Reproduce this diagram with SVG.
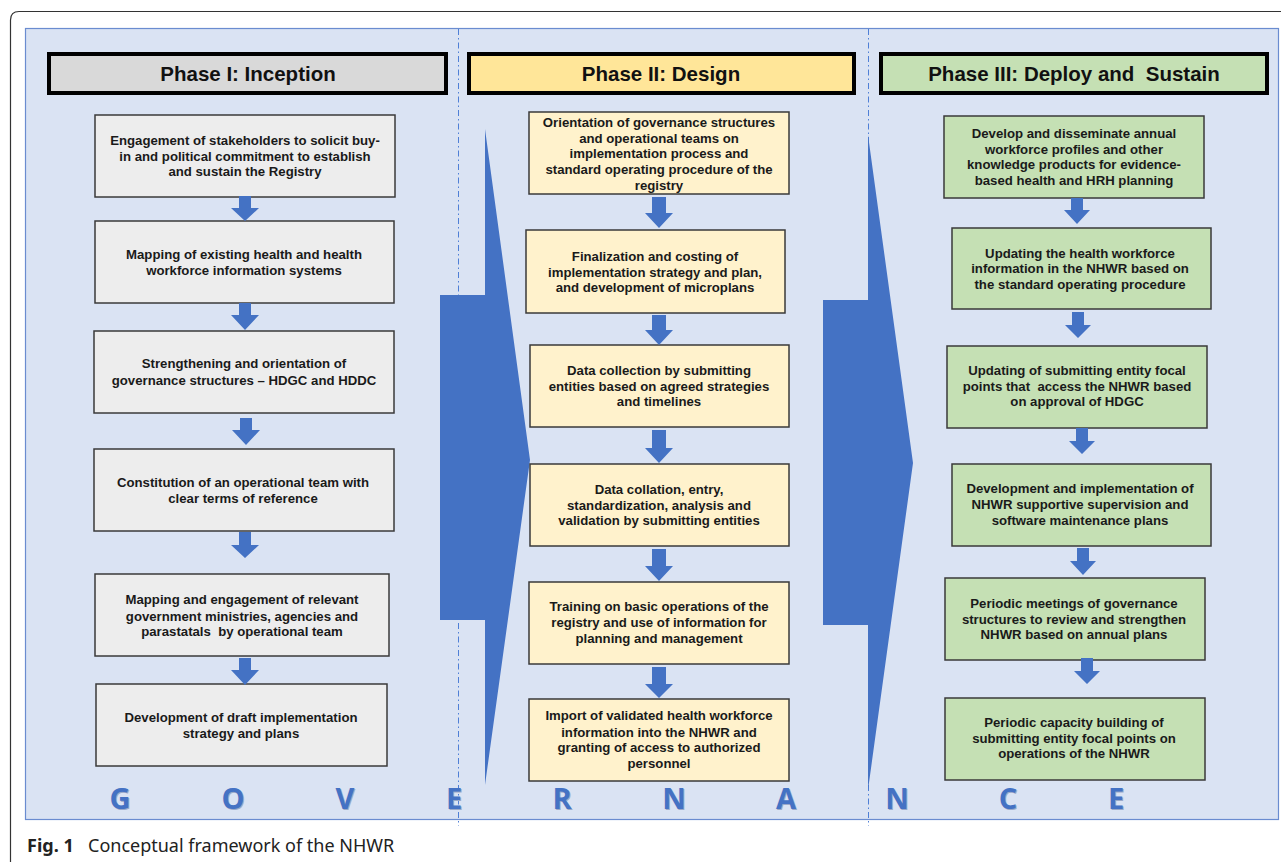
<svg xmlns="http://www.w3.org/2000/svg" width="1281" height="862" viewBox="0 0 1281 862">
<defs>
<style>
text{white-space:pre}
.frame{fill:none;stroke:#333;stroke-width:1.2}
.panel{fill:#dae3f3;stroke:#6a8cd0;stroke-width:1.2}
.sep{stroke:#4f7fd6;stroke-width:1;stroke-dasharray:6 3 1.5 3;fill:none}
.hdr{stroke:#000;stroke-width:4}
.h1{fill:#d9d9d9}.h2{fill:#ffe699}.h3{fill:#c5e0b4}
.ht{font-family:"Liberation Sans",Arial,sans-serif;font-weight:bold;font-size:20.5px;fill:#111;text-anchor:middle}
.box{stroke:#3a3a3a;stroke-width:1.5}
.b1{fill:#ededed}.b2{fill:#fff2cc}.b3{fill:#c5e0b4}
.bt{font-family:"Liberation Sans",Arial,sans-serif;font-weight:bold;font-size:13.2px;fill:#1a1a1a;text-anchor:middle}
.big{fill:#4472c4}
.sa{fill:#4472c4}
.gov{font-family:"Open Sans","Liberation Sans",sans-serif;font-weight:bold;font-size:29px;fill:#4472c4;text-anchor:middle}
.govs{font-family:"Open Sans","Liberation Sans",sans-serif;font-weight:bold;font-size:29px;fill:#9aa9c8;text-anchor:middle}
.cap{font-family:"Noto Sans","Open Sans",sans-serif;font-size:18px;fill:#222}
</style>
</defs>
<path class="frame" d="M10.5 862 V20 Q10.5 11.5 19 11.5 H1281"/>
<rect class="panel" x="25.5" y="28.5" width="1253" height="791"/>
<line class="sep" x1="458.5" y1="29" x2="458.5" y2="826"/>
<line class="sep" x1="868.5" y1="29" x2="868.5" y2="826"/>

<g id="bigarrows">
<polygon class="big" points="440,295 485,295 485,129 530,460 485,785 485,620 440,620"/>
<polygon class="big" points="823,300 868,300 868,135 913,463 868,790 868,625 823,625"/>
</g>

<g id="phase1-header"><rect class="hdr h1" x="49" y="54" width="397" height="39"/><text class="ht" x="248" y="81">Phase I: Inception</text></g>
<g id="phase2-header"><rect class="hdr h2" x="469" y="54" width="385" height="39"/><text class="ht" x="661" y="81">Phase II: Design</text></g>
<g id="phase3-header"><rect class="hdr h3" x="881" y="54" width="386" height="39"/><text class="ht" x="1074" y="81">Phase III: Deploy and  Sustain</text></g>

<g id="p1n1"><rect class="box b1" x="95" y="115" width="300" height="82"/><text class="bt"><tspan x="245" y="145">Engagement of stakeholders to solicit buy-</tspan><tspan x="245" y="161">in and political commitment to establish</tspan><tspan x="245" y="176">and sustain the Registry</tspan></text></g>
<g id="p1n2"><rect class="box b1" x="95" y="221" width="299" height="82"/><text class="bt"><tspan x="244" y="259">Mapping of existing health and health</tspan><tspan x="244" y="275">workforce information systems</tspan></text></g>
<g id="p1n3"><rect class="box b1" x="94" y="331" width="300" height="82"/><text class="bt"><tspan x="244" y="368">Strengthening and orientation of</tspan><tspan x="244" y="385">governance structures – HDGC and HDDC</tspan></text></g>
<g id="p1n4"><rect class="box b1" x="94" y="449" width="300" height="82"/><text class="bt"><tspan x="243" y="487">Constitution of an operational team with</tspan><tspan x="243" y="503">clear terms of reference</tspan></text></g>
<g id="p1n5"><rect class="box b1" x="95" y="574" width="294" height="82"/><text class="bt"><tspan x="242" y="604">Mapping and engagement of relevant</tspan><tspan x="242" y="621">government ministries, agencies and</tspan><tspan x="242" y="636">parastatals  by operational team</tspan></text></g>
<g id="p1n6"><rect class="box b1" x="96" y="684" width="291" height="82"/><text class="bt"><tspan x="241" y="722">Development of draft implementation</tspan><tspan x="241" y="738">strategy and plans</tspan></text></g>

<g id="p2n1"><rect class="box b2" x="529" y="112" width="260" height="82"/><text class="bt"><tspan x="659" y="127">Orientation of governance structures</tspan><tspan x="659" y="143">and operational teams on</tspan><tspan x="659" y="158">implementation process and</tspan><tspan x="659" y="174">standard operating procedure of the</tspan><tspan x="659" y="190">registry</tspan></text></g>
<g id="p2n2"><rect class="box b2" x="526" y="230" width="259" height="83"/><text class="bt"><tspan x="655" y="261">Finalization and costing of</tspan><tspan x="655" y="277">implementation strategy and plan,</tspan><tspan x="655" y="292">and development of microplans</tspan></text></g>
<g id="p2n3"><rect class="box b2" x="530" y="345" width="259" height="82"/><text class="bt"><tspan x="659" y="375">Data collection by submitting</tspan><tspan x="659" y="391">entities based on agreed strategies</tspan><tspan x="659" y="406">and timelines</tspan></text></g>
<g id="p2n4"><rect class="box b2" x="530" y="464" width="259" height="82"/><text class="bt"><tspan x="659" y="494">Data collation, entry,</tspan><tspan x="659" y="510">standardization, analysis and</tspan><tspan x="659" y="525">validation by submitting entities</tspan></text></g>
<g id="p2n5"><rect class="box b2" x="529" y="582" width="260" height="82"/><text class="bt"><tspan x="659" y="611">Training on basic operations of the</tspan><tspan x="659" y="627">registry and use of information for</tspan><tspan x="659" y="643">planning and management</tspan></text></g>
<g id="p2n6"><rect class="box b2" x="529" y="699" width="260" height="82"/><text class="bt"><tspan x="659" y="720">Import of validated health workforce</tspan><tspan x="659" y="737">information into the NHWR and</tspan><tspan x="659" y="752">granting of access to authorized</tspan><tspan x="659" y="768">personnel</tspan></text></g>

<g id="p3n1"><rect class="box b3" x="944" y="116" width="260" height="82"/><text class="bt"><tspan x="1074" y="138">Develop and disseminate annual</tspan><tspan x="1074" y="154">workforce profiles and other</tspan><tspan x="1074" y="169">knowledge products for evidence-</tspan><tspan x="1074" y="185">based health and HRH planning</tspan></text></g>
<g id="p3n2"><rect class="box b3" x="952" y="228" width="259" height="81"/><text class="bt"><tspan x="1080" y="258">Updating the health workforce</tspan><tspan x="1080" y="273">information in the NHWR based on</tspan><tspan x="1080" y="289">the standard operating procedure</tspan></text></g>
<g id="p3n3"><rect class="box b3" x="947" y="346" width="260" height="82"/><text class="bt"><tspan x="1077" y="375">Updating of submitting entity focal</tspan><tspan x="1077" y="391">points that  access the NHWR based</tspan><tspan x="1077" y="406">on approval of HDGC</tspan></text></g>
<g id="p3n4"><rect class="box b3" x="952" y="464" width="259" height="82"/><text class="bt"><tspan x="1080" y="493">Development and implementation of</tspan><tspan x="1080" y="509">NHWR supportive supervision and</tspan><tspan x="1080" y="525">software maintenance plans</tspan></text></g>
<g id="p3n5"><rect class="box b3" x="945" y="578" width="260" height="82"/><text class="bt"><tspan x="1074" y="608">Periodic meetings of governance</tspan><tspan x="1074" y="624">structures to review and strengthen</tspan><tspan x="1074" y="639">NHWR based on annual plans</tspan></text></g>
<g id="p3n6"><rect class="box b3" x="945" y="698" width="260" height="82"/><text class="bt"><tspan x="1074" y="727">Periodic capacity building of</tspan><tspan x="1074" y="743">submitting entity focal points on</tspan><tspan x="1074" y="758">operations of the NHWR</tspan></text></g>

<g id="connectors">
<path class="sa" d="M239 196 H251 V208 H259 L245 221 L231 208 H239 Z"/>
<path class="sa" d="M239 303 H251 V315 H259 L245 330 L231 315 H239 Z"/>
<path class="sa" d="M240 418 H252 V430 H260 L246 445 L232 430 H240 Z"/>
<path class="sa" d="M239 532 H251 V545 H259 L245 558 L231 545 H239 Z"/>
<path class="sa" d="M239 658 H251 V670 H259 L245 685 L231 670 H239 Z"/>

<path class="sa" d="M652 197 H666 V213 H673 L659 228 L645 213 H652 Z"/>
<path class="sa" d="M652 315 H666 V330 H673 L659 345 L645 330 H652 Z"/>
<path class="sa" d="M652 430 H666 V448 H673 L659 463 L645 448 H652 Z"/>
<path class="sa" d="M652 549 H666 V566 H673 L659 581 L645 566 H652 Z"/>
<path class="sa" d="M652 667 H666 V684 H673 L659 698 L645 684 H652 Z"/>

<path class="sa" d="M1071 198 H1083 V210 H1090 L1077 224 L1064 210 H1071 Z"/>
<path class="sa" d="M1072 312 H1084 V325 H1091 L1078 338 L1065 325 H1072 Z"/>
<path class="sa" d="M1076 428 H1088 V441 H1095 L1082 454 L1069 441 H1076 Z"/>
<path class="sa" d="M1077 548 H1089 V561 H1096 L1083 575 L1070 561 H1077 Z"/>
<path class="sa" d="M1081 658 H1093 V671 H1100 L1087 684 L1074 671 H1081 Z"/>
</g>

<g id="governance">
<text class="govs" x="121" y="810">G</text><text class="gov" x="120" y="809">G</text>
<text class="govs" x="234" y="810">O</text><text class="gov" x="233" y="809">O</text>
<text class="govs" x="346" y="810">V</text><text class="gov" x="345" y="809">V</text>
<text class="govs" x="455" y="810">E</text><text class="gov" x="454" y="809">E</text>
<text class="govs" x="563" y="810">R</text><text class="gov" x="562" y="809">R</text>
<text class="govs" x="675" y="810">N</text><text class="gov" x="674" y="809">N</text>
<text class="govs" x="787" y="810">A</text><text class="gov" x="786" y="809">A</text>
<text class="govs" x="898" y="810">N</text><text class="gov" x="897" y="809">N</text>
<text class="govs" x="1009" y="810">C</text><text class="gov" x="1008" y="809">C</text>
<text class="govs" x="1117" y="810">E</text><text class="gov" x="1116" y="809">E</text>
</g>

<text class="cap" x="27" y="852"><tspan font-weight="bold">Fig. 1</tspan><tspan x="88">Conceptual framework of the NHWR</tspan></text>
</svg>
